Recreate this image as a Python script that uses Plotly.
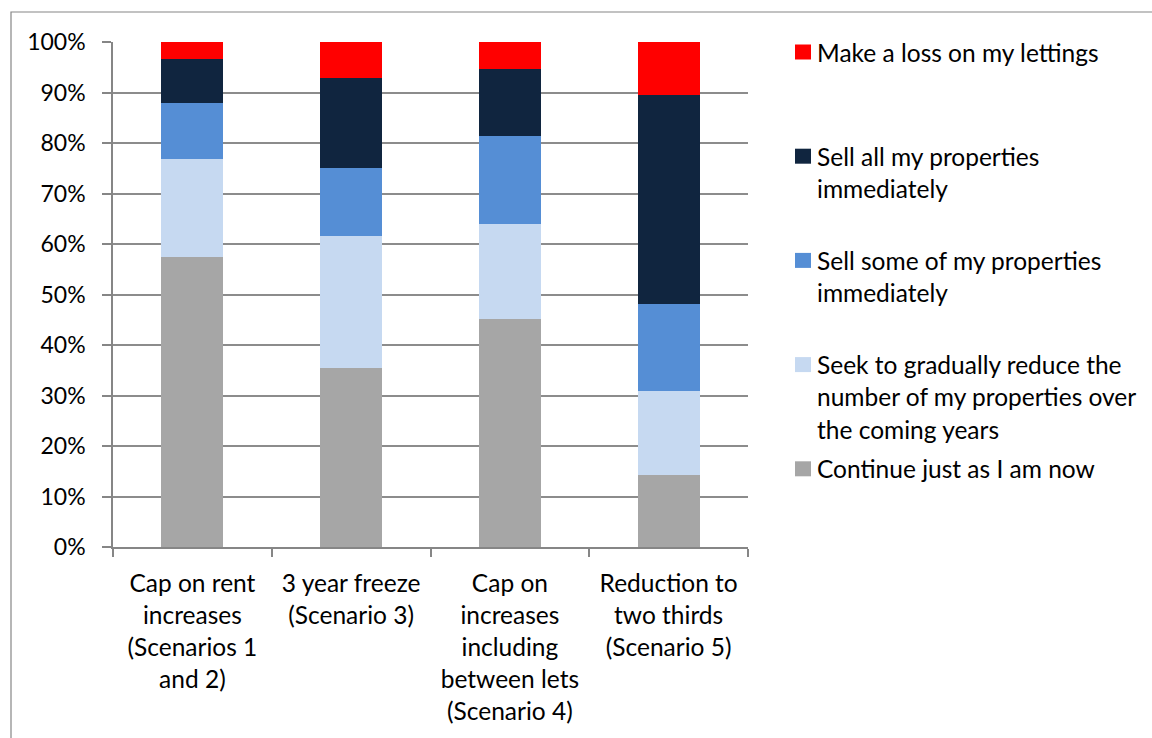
import plotly.graph_objects as go

categories = [
    "Cap on rent<br>increases<br>(Scenarios 1<br>and 2)",
    "3 year freeze<br>(Scenario 3)",
    "Cap on<br>increases<br>including<br>between lets<br>(Scenario 4)",
    "Reduction to<br>two thirds<br>(Scenario 5)",
]
series_names = [
    "Continue just as I am now",
    "Seek to gradually reduce the<br>number of my properties over<br>the coming years",
    "Sell some of my properties<br>immediately",
    "Sell all my properties<br>immediately",
    "Make a loss on my lettings",
]
continue_now = [0.574, 0.354, 0.452, 0.143]
gradually_reduce = [0.194, 0.262, 0.188, 0.166]
sell_some = [0.111, 0.135, 0.174, 0.172]
sell_all = [0.087, 0.178, 0.133, 0.414]
make_loss = [0.034, 0.071, 0.053, 0.105]
colors = ["#A6A6A6", "#C6D9F1", "#558ED5", "#10253F", "#FF0000"]

FONT = "Lato"
FS = 24.5
FS_Y = 23

series_values = [continue_now, gradually_reduce, sell_some, sell_all, make_loss]

fig = go.Figure()
for name, vals, col in zip(series_names, series_values, colors):
    fig.add_trace(go.Bar(x=categories, y=vals, name=name.replace("<br>", " "),
                         marker=dict(color=col, line=dict(width=0)),
                         showlegend=False))

# plot area in pixels
L, R, T, B = 113, 748, 42, 547
W, H = 1152, 738
pw, ph = R - L, B - T

def px_x(x):
    return (x - L) / pw

def px_y(y):
    return (B - y) / ph

shapes = []
annotations = []
# chart outer border
shapes.append(dict(type="rect", xref="paper", yref="paper",
                   x0=px_x(11), x1=px_x(1170), y0=px_y(760), y1=px_y(12),
                   line=dict(color="#868686", width=1.2), fillcolor="rgba(0,0,0,0)",
                   layer="below"))

# custom legend (top item = top of stack)
for i, idx in enumerate(reversed(range(len(series_names)))):
    yc = 52 + 104.2 * i
    shapes.append(dict(type="rect", xref="paper", yref="paper",
                       x0=px_x(795), x1=px_x(811), y0=px_y(yc + 7.5), y1=px_y(yc - 7.5),
                       fillcolor=colors[idx], line=dict(width=0)))
    for j, line in enumerate(series_names[idx].split("<br>")):
        annotations.append(dict(xref="paper", yref="paper", x=px_x(815), y=px_y(yc + 32.3 * j),
                                text=line, showarrow=False, xanchor="left", yanchor="middle",
                                font=dict(family=FONT, size=FS, color="#000000")))

fig.update_layout(
    width=W, height=H,
    margin=dict(l=L, r=W - R, t=T, b=H - B, pad=0),
    barmode="stack",
    bargap=0.61,
    plot_bgcolor="white",
    paper_bgcolor="white",
    font=dict(family=FONT, size=FS, color="#000000"),
    shapes=shapes,
    annotations=annotations,
    xaxis=dict(type="category", showline=True, linecolor="#868686", linewidth=1.5,
               ticks="outside", ticklen=8, tickcolor="#868686", tickwidth=1.5,
               tickson="boundaries", showgrid=False, tickangle=0, ticklabelstandoff=14,
               tickfont=dict(family=FONT, size=FS, color="#000000")),
    yaxis=dict(range=[0, 1], dtick=0.1, tickformat=".0%", showline=True,
               linecolor="#868686", linewidth=1.5, ticks="outside", ticklen=9,
               tickcolor="#868686", tickwidth=1.5, showgrid=True, gridcolor="#8C8C8C",
               gridwidth=1.5, zeroline=False, ticklabelstandoff=12,
               tickfont=dict(family=FONT, size=FS_Y, color="#000000")),
)

fig.write_html("out.html", config={"displayModeBar": False},
               post_script="document.body.style.margin='0';document.body.style.overflow='hidden';")
